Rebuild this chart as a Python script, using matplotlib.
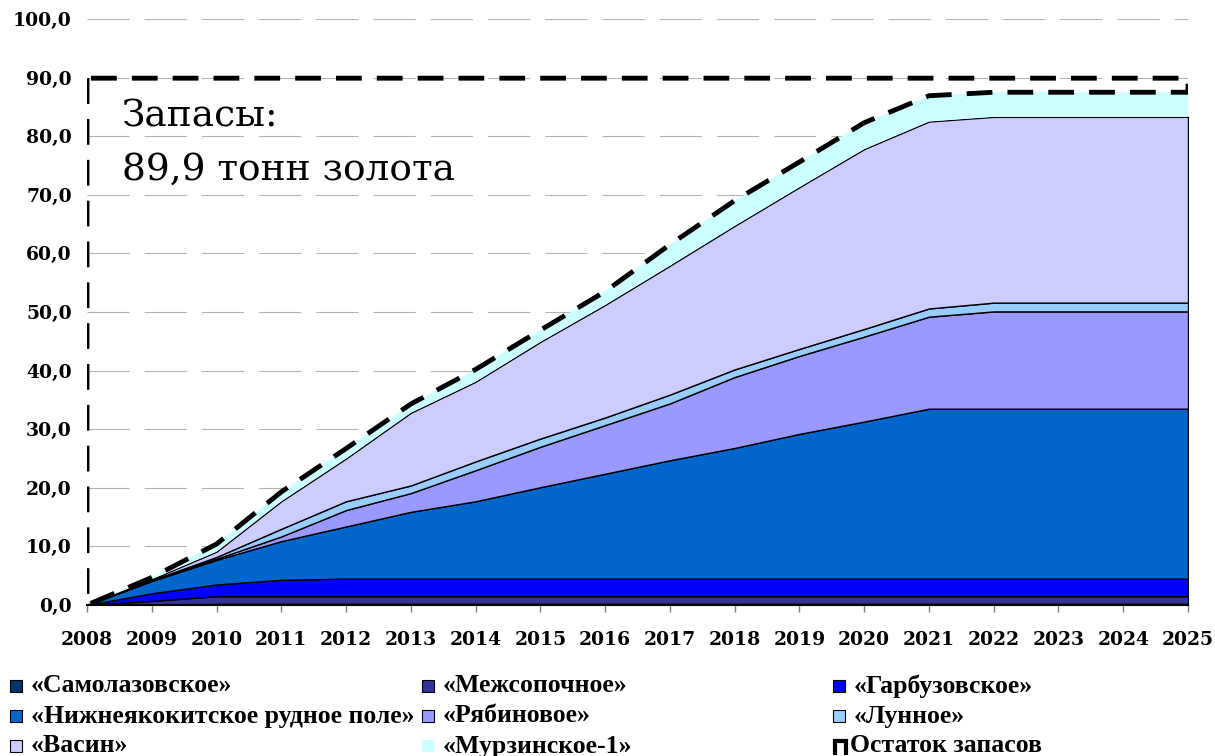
import numpy as np
import matplotlib
matplotlib.use('Agg')
import matplotlib.pyplot as plt
from matplotlib.patches import Rectangle
from matplotlib.lines import Line2D

# data (tonnes of gold per deposit, stacked)
years = list(range(2008, 2026))
samolaz = [0, 0.1, 0.2, 0.2, 0.2, 0.2, 0.2, 0.2, 0.2, 0.2, 0.2, 0.2, 0.2, 0.2, 0.2, 0.2, 0.2, 0.2]
mezhsop = [0, 0.6, 1.3, 1.3, 1.3, 1.3, 1.3, 1.3, 1.3, 1.3, 1.3, 1.3, 1.3, 1.3, 1.3, 1.3, 1.3, 1.3]
garbuz = [0, 1.3, 2.0, 2.8, 3.0, 3.0, 3.0, 3.0, 3.0, 3.0, 3.0, 3.0, 3.0, 3.0, 3.0, 3.0, 3.0, 3.0]
nizhne = [0, 2.1, 4.2, 6.6, 8.9, 11.4, 13.2, 15.6, 17.9, 20.2, 22.3, 24.7, 26.8, 29.0, 29.0, 29.0, 29.0, 29.0]
ryabin = [0, 0.05, 0.2, 0.8, 2.8, 3.2, 5.3, 6.9, 8.3, 9.7, 12.1, 13.3, 14.5, 15.7, 16.6, 16.6, 16.6, 16.6]
lunnoe = [0, 0.1, 0.3, 1.3, 1.5, 1.3, 1.5, 1.4, 1.3, 1.5, 1.3, 1.2, 1.3, 1.4, 1.5, 1.5, 1.5, 1.5]
vasin = [0, 0.15, 0.9, 4.7, 7.3, 12.4, 13.6, 16.5, 19.2, 22.0, 24.5, 27.6, 30.7, 31.9, 31.7, 31.7, 31.7, 31.7]
murzin = [0, 0.3, 1.3, 1.6, 1.7, 1.5, 2.1, 2.0, 2.3, 3.6, 4.3, 4.3, 4.5, 4.4, 4.2, 4.2, 4.2, 4.2]
reserves = 89.9

names = ['«Самолазовское»', '«Межсопочное»', '«Гарбузовское»',
         '«Нижнеякокитское рудное поле»', '«Рябиновое»', '«Лунное»',
         '«Васин»', '«Мурзинское-1»', 'Остаток запасов']
colors = ['#003366', '#333399', '#0000FF', '#0066CC', '#9999FF',
          '#99CCFF', '#CCCCFF', '#CCFFFF']

series = [samolaz, mezhsop, garbuz, nizhne, ryabin, lunnoe, vasin, murzin]
total = np.sum(np.array(series), axis=0)
ostatok = reserves - total

W, H = 1215, 756
fig = plt.figure(figsize=(W / 100, H / 100), dpi=100)
ax = fig.add_axes([87 / W, 1 - 605 / H, 1101 / W, 586 / H])

polys = ax.stackplot(years, *series, ostatok,
                     colors=colors + ['none'], zorder=3)
for i, p in enumerate(polys):
    if i < 7:
        p.set_edgecolor('black')
        p.set_linewidth(1.0)
    elif i == 7:
        p.set_edgecolor('none')
    else:
        p.set_facecolor('none')
        p.set_edgecolor('black')
        p.set_linewidth(3.5)
        p.set_linestyle((0, (5.3, 3.1)))
        p.set_zorder(4)

ax.set_xlim(2008, 2025)
ax.set_ylim(0, 100)
ax.set_xticks(years)
ax.set_xticklabels([str(y) for y in years], fontfamily='DejaVu Serif',
                   fontweight='bold', fontsize=13.5)
yt = np.arange(0, 101, 10)
ax.set_yticks(yt)
ax.set_yticklabels([('%.1f' % v).replace('.', ',') for v in yt],
                   fontfamily='DejaVu Serif', fontweight='bold', fontsize=13.5)
ax.tick_params(axis='x', color='#808080', length=5, width=1, pad=14)
ax.tick_params(axis='y', length=0, pad=11)

ax.yaxis.grid(True, color='#b3b3b3', linewidth=0.8, linestyle=(0, (38, 13.5)))
ax.set_axisbelow(True)
for s in ['top', 'right', 'left']:
    ax.spines[s].set_visible(False)
ax.spines['bottom'].set_linewidth(1.5)
ax.spines['bottom'].set_zorder(5)

ax.text(0.032, 0.816, 'Запасы:', transform=ax.transAxes, fontsize=27,
        fontfamily='DejaVu Serif', va='baseline', zorder=6)
ax.text(0.032, 0.725, '89,9 тонн золота', transform=ax.transAxes, fontsize=27,
        fontfamily='DejaVu Serif', va='baseline', zorder=6)

# legend drawn by hand, 3 x 3 grid
col_x = [10, 422, 833]
row_y = [686, 716, 746]
for k, name in enumerate(names):
    r, c = k // 3, k % 3
    x0, y0 = col_x[c], row_y[r]
    if k < 8:
        ec = 'none' if k == 7 else 'black'
        fig.add_artist(Rectangle((x0 / W, 1 - (y0 + 6) / H), 12 / W, 12 / H,
                                 facecolor=colors[k], edgecolor=ec, lw=0.8,
                                 transform=fig.transFigure))
        tx = x0 + 21
    else:
        xs = np.array([x0 + 2, x0 + 2, x0 + 13, x0 + 13]) / W
        ys = 1 - np.array([y0 + 7, y0 - 5, y0 - 5, y0 + 7]) / H
        fig.add_artist(Line2D(xs, ys, color='black', lw=3.0,
                              solid_joinstyle='miter', transform=fig.transFigure))
        tx = x0 + 17
    fig.text(tx / W, 1 - y0 / H, name, fontfamily='Liberation Serif',
             fontweight='bold', fontsize=18.5, va='center', ha='left')

fig.savefig('out.png', dpi=100)
